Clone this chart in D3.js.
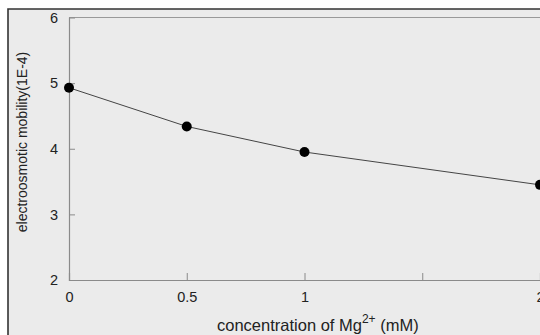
<!DOCTYPE html>
<html><head><meta charset="utf-8">
<script src="https://cdn.jsdelivr.net/npm/d3@7"></script>
<style>html,body{margin:0;padding:0;background:#fff;}svg{display:block;}</style>
</head><body>
<script>
const concentration = [0, 0.5, 1, 2];
const mobility = [4.93, 4.34, 3.95, 3.45];
const xTicks = [0, 0.5, 1, 1.5, 2];
const xTickLabels = ["0", "0.5", "1", "", "2"];
const yTicks = [2, 3, 4, 5, 6];

const W = 540, H = 335;
const svg = d3.select("body").append("svg").attr("width", W).attr("height", H);
const font = "'Liberation Sans', Arial, sans-serif";

svg.append("rect").attr("x", 0).attr("y", 0).attr("width", W).attr("height", H).attr("fill", "#fff");
svg.append("rect").attr("x", 8).attr("y", 9).attr("width", W - 8).attr("height", H - 9).attr("fill", "#ebebeb");
svg.append("path").attr("d", `M8,${H} L8,9 L${W},9`).attr("fill", "none").attr("stroke", "#333").attr("stroke-width", 1.6);

const x = d3.scaleLinear().domain([0, 2]).range([69, 540]);
const y = d3.scaleLinear().domain([2, 6]).range([280, 17.5]);

const axisColor = "#8a8a8a";
svg.append("line").attr("x1", 69).attr("x2", W).attr("y1", y(6)).attr("y2", y(6)).attr("stroke", "#999").attr("stroke-width", 1);

const xAxis = svg.append("g").attr("transform", `translate(0,${y(2)})`)
  .call(d3.axisBottom(x).tickValues(xTicks).tickSize(-7).tickPadding(12).tickFormat((d, i) => xTickLabels[i]));
const yAxis = svg.append("g").attr("transform", `translate(${x(0)},0)`)
  .call(d3.axisLeft(y).tickValues(yTicks).tickSize(-6).tickPadding(11).tickFormat(d3.format("d")));
[xAxis, yAxis].forEach(g => {
  g.attr("font-size", null);
  g.select(".domain").attr("stroke", axisColor).attr("stroke-width", 1.2);
  g.selectAll(".tick line").attr("stroke", axisColor);
  g.selectAll(".tick text").attr("fill", "#222").attr("font-family", font).attr("font-size", "14.5px");
});
xAxis.selectAll(".tick").filter(d => d === 0 || d === 2).select("line").remove();
yAxis.selectAll(".tick").filter(d => d === 2 || d === 6).select("line").remove();

const pts = concentration.map((c, i) => [c, mobility[i]]);
svg.append("path").datum(pts)
  .attr("d", d3.line().x(d => x(d[0])).y(d => y(d[1])))
  .attr("fill", "none").attr("stroke", "#444").attr("stroke-width", 1);
svg.selectAll("circle.pt").data(pts).enter().append("circle")
  .attr("cx", d => x(d[0])).attr("cy", d => y(d[1])).attr("r", 5).attr("fill", "#000");

svg.append("text").attr("transform", "translate(27,142) rotate(-90)")
  .attr("text-anchor", "middle").attr("font-family", font).attr("font-size", "14px").attr("fill", "#222")
  .text("electroosmotic mobility(1E-4)");
const xt = svg.append("text").attr("x", 217).attr("y", 331)
  .attr("font-family", font).attr("font-size", "16.5px").attr("fill", "#222");
xt.append("tspan").text("concentration of Mg");
xt.append("tspan").attr("dy", -8).attr("font-size", "12px").text("2+");
xt.append("tspan").attr("dy", 8).text(" (mM)");
</script>
</body></html>
